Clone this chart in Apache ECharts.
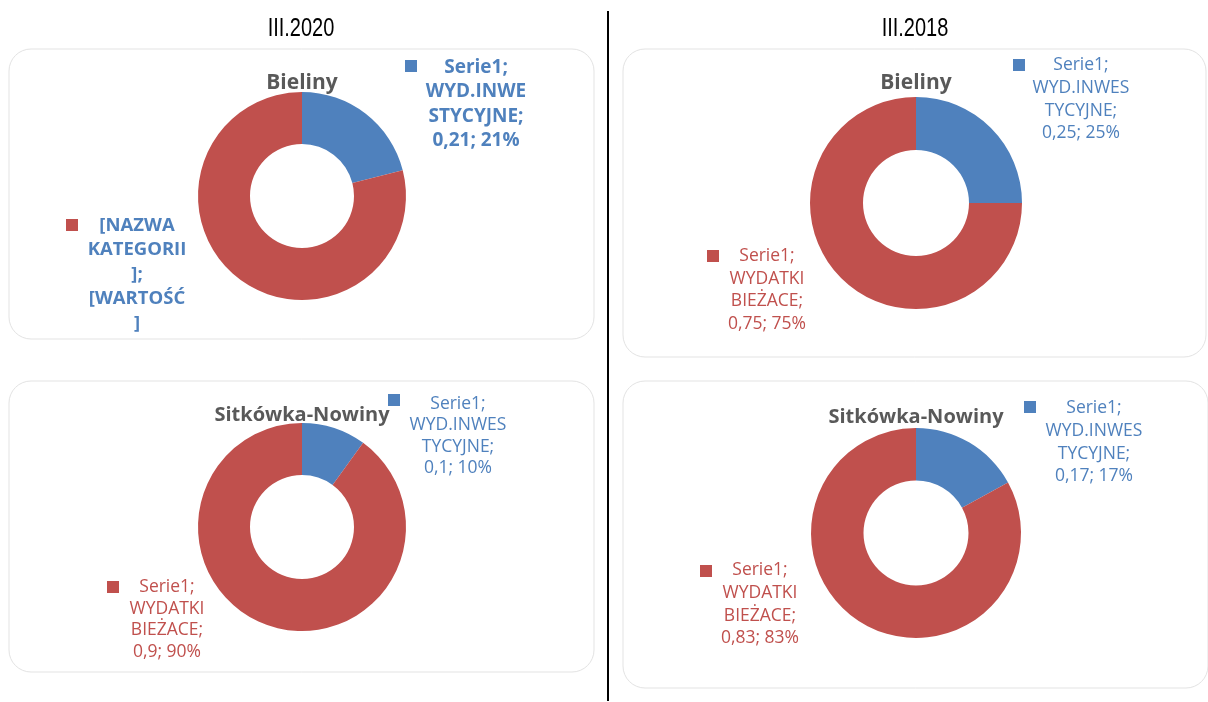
<!DOCTYPE html>
<html>
<head>
<meta charset="utf-8">
<script src="https://cdn.jsdelivr.net/npm/echarts@6/dist/echarts.min.js"></script>
<style>
  html, body { margin: 0; padding: 0; background: #fff; }
  #chart { width: 1208px; height: 702px; }
</style>
</head>
<body>
<div id="chart"></div>
<script>
// dane: udział wydatków (Serie1)
const periods = ['III.2020', 'III.2018'];
const districts = ['Bieliny', 'Sitkówka-Nowiny'];
const categories = ['WYD.INWESTYCYJNE', 'WYDATKI BIEŻACE'];
const bieliny2020 = [0.21, 0.79];
const bieliny2018 = [0.25, 0.75];
const sitkowka2020 = [0.1, 0.9];
const sitkowka2018 = [0.17, 0.83];
const seriesName = 'Serie1';

const BLUE = '#4F81BD';
const RED = '#C0504D';
const FONT = '"Open Sans", "Noto Sans", sans-serif';

// układ paneli (tylko pozycje)
const panels = [
  { values: bieliny2020, title: districts[0], cx: 302, cy: 196, r: 104, titleY: 83, titleSize: 21, box: [9, 49, 585, 290],
    labels: [
      { x: 476, y: 55, lh: 24.5, fs: 19, sq: [411, 66], cut: 8, bold: true },
      { x: 137, y: 213, lh: 24.6, fs: 18.5, sq: [72, 225], bold: true, placeholder: true }
    ] },
  { values: bieliny2018, title: districts[0], cx: 916, cy: 203, r: 106, titleY: 83, titleSize: 21, box: [623, 49, 583, 308],
    labels: [
      { x: 1081, y: 54, lh: 22.7, fs: 17.5, sq: [1019, 65], cut: 9 },
      { x: 767, y: 245, lh: 22.5, fs: 17.5, sq: [713, 256] }
    ] },
  { values: sitkowka2020, title: districts[1], cx: 302, cy: 527, r: 104, titleY: 415, titleSize: 20, box: [9, 381, 585, 291],
    labels: [
      { x: 458, y: 393, lh: 21.5, fs: 17.5, sq: [394, 400], cut: 9 },
      { x: 167, y: 576, lh: 21.8, fs: 17.5, sq: [113, 587] }
    ] },
  { values: sitkowka2018, title: districts[1], cx: 916, cy: 533, r: 105, titleY: 417, titleSize: 20, box: [623, 381, 585, 307],
    labels: [
      { x: 1094, y: 397, lh: 22.7, fs: 17.5, sq: [1030, 407], cut: 9 },
      { x: 760, y: 559, lh: 22.7, fs: 17.5, sq: [706, 571] }
    ] }
];

function fmt(v) {
  return String(v).replace('.', ',') + '; ' + Math.round(v * 100) + '%';
}

function labelText(lab, idx, v) {
  if (lab.placeholder) return '[NAZWA\nKATEGORII\n];\n[WARTOŚĆ\n]';
  let cat = categories[idx];
  cat = lab.cut ? cat.slice(0, lab.cut) + '\n' + cat.slice(lab.cut) : cat.replace(' ', '\n');
  return seriesName + ';\n' + cat + ';\n' + fmt(v);
}

const graphic = [];
// tła paneli
panels.forEach(p => {
  graphic.push({
    type: 'rect', z: -10, silent: true,
    shape: { x: p.box[0], y: p.box[1], width: p.box[2], height: p.box[3], r: 22 },
    style: { fill: '#fff', stroke: '#e3e3e3', lineWidth: 1 }
  });
});
// nagłówki okresów (wąska czcionka -> scaleX)
periods.forEach((t, i) => {
  graphic.push({
    type: 'text', x: i === 0 ? 301 : 915, y: 29, scaleX: 0.8,
    style: { text: t, fill: '#000', font: '25px "Liberation Sans", sans-serif', align: 'center', verticalAlign: 'middle' }
  });
});
graphic.push({ type: 'line', shape: { x1: 608, y1: 11, x2: 608, y2: 701 }, style: { stroke: '#000', lineWidth: 2 } });
panels.forEach(p => {
  graphic.push({
    type: 'text', x: p.cx, y: p.titleY,
    style: { text: p.title, fill: '#595959', font: 'bold ' + p.titleSize + 'px ' + FONT, align: 'center', verticalAlign: 'middle' }
  });
  // kwadraciki legendy przy etykietach
  p.labels.forEach((lab, i) => {
    graphic.push({
      type: 'rect', shape: { x: lab.sq[0] - 6, y: lab.sq[1] - 6, width: 12, height: 12 },
      style: { fill: i === 0 ? BLUE : RED }
    });
  });
});

const series = panels.map(p => ({
  type: 'pie',
  name: seriesName,
  center: [p.cx, p.cy],
  radius: [p.r * 0.5, p.r],
  startAngle: 90,
  clockwise: true,
  silent: true,
  itemStyle: { borderWidth: 0 },
  labelLine: { show: false },
  label: {
    show: true,
    position: 'outside',
    fontFamily: FONT,
    formatter: params => labelText(p.labels[params.dataIndex], params.dataIndex, params.value)
  },
  labelLayout: params => {
    const lab = p.labels[params.dataIndex];
    return { x: lab.x, y: lab.y, align: 'center', verticalAlign: 'top' };
  },
  data: p.values.map((v, i) => {
    const lab = p.labels[i];
    return {
      name: categories[i],
      value: v,
      itemStyle: { color: i === 0 ? BLUE : RED },
      label: {
        color: (i === 0 || lab.placeholder) ? BLUE : RED,
        fontWeight: lab.bold ? 'bold' : 'normal',
        fontSize: lab.fs,
        lineHeight: lab.lh
      }
    };
  })
}));

const myChart = echarts.init(document.getElementById('chart'));
myChart.setOption({
  animation: false,
  backgroundColor: '#fff',
  graphic: graphic,
  series: series
});
</script>
</body>
</html>
